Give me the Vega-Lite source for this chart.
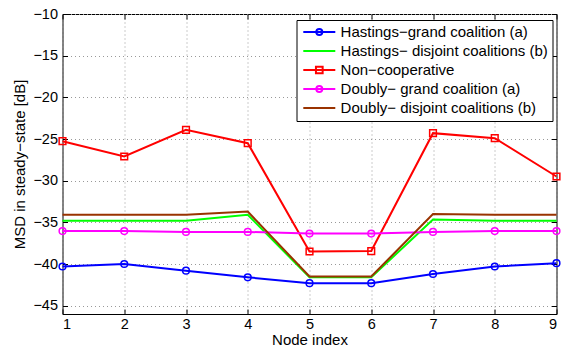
{
  "$schema": "https://vega.github.io/schema/vega-lite/v6.json",
  "width": 494,
  "height": 300,
  "autosize": "none",
  "padding": {"left": 62.5, "top": 14, "right": 6.5, "bottom": 35},
  "background": "white",
  "config": {
    "view": {"stroke": "black", "strokeWidth": 1},
    "font": "Liberation Sans",
    "axis": {
      "domain": false,
      "grid": true,
      "gridColor": "#999999",
      "gridDash": [1, 3],
      "gridWidth": 1,
      "tickColor": "black",
      "tickSize": -5,
      "labelFont": "Liberation Sans",
      "labelFontSize": 14.5,
      "labelColor": "black",
      "titleFont": "Liberation Sans",
      "titleFontSize": 15,
      "titleFontWeight": "normal",
      "titleColor": "black"
    }
  },
  "resolve": {"axis": {"x": "independent", "y": "independent"}},
  "data": {
    "values": [
      {"node": 1, "msd": -40.3, "series": "Hastings−grand coalition (a)"},
      {"node": 2, "msd": -40.0, "series": "Hastings−grand coalition (a)"},
      {"node": 3, "msd": -40.8, "series": "Hastings−grand coalition (a)"},
      {"node": 4, "msd": -41.6, "series": "Hastings−grand coalition (a)"},
      {"node": 5, "msd": -42.3, "series": "Hastings−grand coalition (a)"},
      {"node": 6, "msd": -42.3, "series": "Hastings−grand coalition (a)"},
      {"node": 7, "msd": -41.2, "series": "Hastings−grand coalition (a)"},
      {"node": 8, "msd": -40.3, "series": "Hastings−grand coalition (a)"},
      {"node": 9, "msd": -39.9, "series": "Hastings−grand coalition (a)"},
      {"node": 1, "msd": -34.8, "series": "Hastings− disjoint coalitions (b)"},
      {"node": 2, "msd": -34.8, "series": "Hastings− disjoint coalitions (b)"},
      {"node": 3, "msd": -34.8, "series": "Hastings− disjoint coalitions (b)"},
      {"node": 4, "msd": -34.1, "series": "Hastings− disjoint coalitions (b)"},
      {"node": 5, "msd": -41.6, "series": "Hastings− disjoint coalitions (b)"},
      {"node": 6, "msd": -41.6, "series": "Hastings− disjoint coalitions (b)"},
      {"node": 7, "msd": -34.65, "series": "Hastings− disjoint coalitions (b)"},
      {"node": 8, "msd": -34.8, "series": "Hastings− disjoint coalitions (b)"},
      {"node": 9, "msd": -34.8, "series": "Hastings− disjoint coalitions (b)"},
      {"node": 1, "msd": -25.26, "series": "Non−cooperative"},
      {"node": 2, "msd": -27.1, "series": "Non−cooperative"},
      {"node": 3, "msd": -23.9, "series": "Non−cooperative"},
      {"node": 4, "msd": -25.5, "series": "Non−cooperative"},
      {"node": 5, "msd": -38.5, "series": "Non−cooperative"},
      {"node": 6, "msd": -38.45, "series": "Non−cooperative"},
      {"node": 7, "msd": -24.3, "series": "Non−cooperative"},
      {"node": 8, "msd": -24.9, "series": "Non−cooperative"},
      {"node": 9, "msd": -29.5, "series": "Non−cooperative"},
      {"node": 1, "msd": -36.05, "series": "Doubly− grand coalition (a)"},
      {"node": 2, "msd": -36.05, "series": "Doubly− grand coalition (a)"},
      {"node": 3, "msd": -36.15, "series": "Doubly− grand coalition (a)"},
      {"node": 4, "msd": -36.15, "series": "Doubly− grand coalition (a)"},
      {"node": 5, "msd": -36.35, "series": "Doubly− grand coalition (a)"},
      {"node": 6, "msd": -36.35, "series": "Doubly− grand coalition (a)"},
      {"node": 7, "msd": -36.15, "series": "Doubly− grand coalition (a)"},
      {"node": 8, "msd": -36.05, "series": "Doubly− grand coalition (a)"},
      {"node": 9, "msd": -36.05, "series": "Doubly− grand coalition (a)"},
      {"node": 1, "msd": -34.1, "series": "Doubly− disjoint coalitions (b)"},
      {"node": 2, "msd": -34.1, "series": "Doubly− disjoint coalitions (b)"},
      {"node": 3, "msd": -34.1, "series": "Doubly− disjoint coalitions (b)"},
      {"node": 4, "msd": -33.7, "series": "Doubly− disjoint coalitions (b)"},
      {"node": 5, "msd": -41.5, "series": "Doubly− disjoint coalitions (b)"},
      {"node": 6, "msd": -41.5, "series": "Doubly− disjoint coalitions (b)"},
      {"node": 7, "msd": -34.0, "series": "Doubly− disjoint coalitions (b)"},
      {"node": 8, "msd": -34.1, "series": "Doubly− disjoint coalitions (b)"},
      {"node": 9, "msd": -34.1, "series": "Doubly− disjoint coalitions (b)"}
    ]
  },
  "layer": [
    {
      "mark": {"type": "line", "strokeWidth": 2},
      "encoding": {
        "x": {
          "field": "node",
          "type": "quantitative",
          "scale": {"domain": [1, 9], "nice": false, "zero": false},
          "axis": {"values": [1, 2, 3, 4, 5, 6, 7, 8, 9], "format": "d", "title": "Node index", "labelPadding": 8, "titlePadding": 2}
        },
        "y": {
          "field": "msd",
          "type": "quantitative",
          "scale": {"domain": [-46, -10], "nice": false, "zero": false},
          "axis": {"values": [-45, -40, -35, -30, -25, -20, -15, -10], "format": "d", "title": "MSD in steady−state [dB]", "labelPadding": 10, "titlePadding": 5}
        },
        "color": {
          "field": "series",
          "type": "nominal",
          "scale": {
            "domain": ["Hastings−grand coalition (a)", "Hastings− disjoint coalitions (b)", "Non−cooperative", "Doubly− grand coalition (a)", "Doubly− disjoint coalitions (b)"],
            "range": ["#0000ff", "#00ff00", "#ff0000", "#ff00ff", "#993300"]
          },
          "legend": {
            "orient": "none",
            "legendX": 234,
            "legendY": 6,
            "title": null,
            "strokeColor": "black",
            "fillColor": "white",
            "padding": 4.5,
            "labelFont": "Liberation Sans",
            "labelFontSize": 15,
            "labelColor": "black",
            "labelLimit": 400,
            "symbolType": "stroke",
            "symbolSize": 100,
            "symbolStrokeWidth": 2,
            "symbolOffset": 10.8,
            "labelOffset": 13.8,
            "rowPadding": 3,
            "encode": {
              "symbols": {
                "update": {
                  "shape": {"signal": "indexof(datum.value, 'grand') >= 0 ? 'M-3.2,0H3.2M0.6,0A0.6,0.6,0,1,1,-0.6,0A0.6,0.6,0,1,1,0.6,0' : (indexof(datum.value, 'Non') >= 0 ? 'M-3.2,0H3.2M-0.67,-0.67H0.67V0.67H-0.67Z' : 'M-3.2,0H3.2')"},
                  "fill": {"value": "transparent"}
                }
              }
            }
          }
        }
      }
    },
    {
      "transform": [{"filter": "indexof(datum.series, 'disjoint') < 0"}],
      "mark": {"type": "point", "filled": false, "strokeWidth": 1.5, "opacity": 1, "size": 45},
      "encoding": {
        "x": {
          "field": "node",
          "type": "quantitative",
          "scale": {"domain": [1, 9], "nice": false, "zero": false},
          "axis": {"orient": "top", "values": [1, 2, 3, 4, 5, 6, 7, 8, 9], "labels": false, "grid": false, "title": null}
        },
        "y": {
          "field": "msd",
          "type": "quantitative",
          "scale": {"domain": [-46, -10], "nice": false, "zero": false},
          "axis": {"orient": "right", "values": [-45, -40, -35, -30, -25, -20, -15, -10], "labels": false, "grid": false, "title": null}
        },
        "stroke": {
          "field": "series",
          "type": "nominal",
          "scale": {
            "domain": ["Hastings−grand coalition (a)", "Non−cooperative", "Doubly− grand coalition (a)"],
            "range": ["#0000ff", "#ff0000", "#ff00ff"]
          },
          "legend": null
        },
        "shape": {
          "field": "series",
          "type": "nominal",
          "scale": {
            "domain": ["Hastings−grand coalition (a)", "Non−cooperative", "Doubly− grand coalition (a)"],
            "range": ["circle", "square", "circle"]
          },
          "legend": null
        }
      }
    }
  ]
}
